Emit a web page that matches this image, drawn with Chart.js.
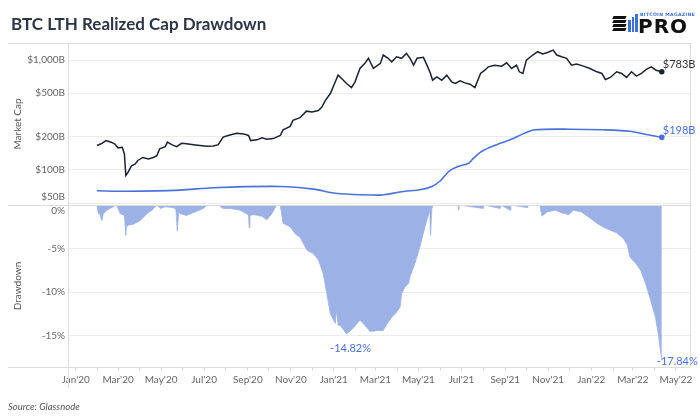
<!DOCTYPE html>
<html>
<head>
<meta charset="utf-8">
<script src="https://cdn.jsdelivr.net/npm/chart.js@4.4.0/dist/chart.umd.min.js"></script>
<style>
  body { margin: 0; background: #fff; }
  #wrap { position: relative; width: 700px; height: 420px; font-family: Lato, 'Open Sans', sans-serif; }
  #chartBox { position: absolute; left: 0; top: 0; width: 700px; height: 420px; }
  #title { position: absolute; left: 11px; top: 15px; font: bold 17px/17px Lato, sans-serif; color: #2e3547; }
  #source { position: absolute; left: 8px; top: 401px; font: italic 9.5px/11px Lato, sans-serif; color: #555; }
  #logo { position: absolute; left: 610px; top: 11px; width: 82px; height: 24px; }
  #logo .bk { position: absolute; height: 2.5px; background: #111; transform: skewX(-25deg); }
  #logo .bl { position: absolute; width: 2.5px; background: #3f6fd8; }
  #logo .mag { position: absolute; left: 30px; top: 1px; font: bold 4.6px/5px 'DejaVu Sans', sans-serif; color: #3f6fd8; letter-spacing: 0.3px; white-space: nowrap; }
  #logo .pro { position: absolute; left: 28px; top: 5px; font: bold 20px/20px 'DejaVu Sans', sans-serif; color: #111; letter-spacing: 1px; }
</style>
</head>
<body>
<div id="wrap">
  <div id="chartBox"><canvas id="ltrChart"></canvas></div>
  <div id="title">BTC LTH Realized Cap Drawdown</div>
  <div id="logo">
    <div class="bk" style="left:3px;top:5px;width:13px"></div>
    <div class="bk" style="left:3px;top:9px;width:13px"></div>
    <div class="bk" style="left:3px;top:13px;width:13px"></div>
    <div class="bk" style="left:3px;top:17px;width:13px"></div>
    <div class="bl" style="left:18px;top:9px;height:12px"></div>
    <div class="bl" style="left:21.5px;top:6px;height:15px"></div>
    <div class="bl" style="left:25px;top:3px;height:18px"></div>
    <div class="mag">BITCOIN MAGAZINE</div>
    <div class="pro">PRO</div>
  </div>
  <div id="source">Source: Glassnode</div>
</div>
<script>
// BTC market cap ($B)
const btcDates = [
  '2020-01-31','2020-02-06','2020-02-13','2020-02-20','2020-02-25','2020-03-01','2020-03-07','2020-03-10','2020-03-12','2020-03-15',
  '2020-03-20','2020-03-25','2020-03-29','2020-04-05','2020-04-13','2020-04-20','2020-04-25','2020-04-29','2020-05-07','2020-05-10',
  '2020-05-16','2020-05-23','2020-05-30','2020-06-06','2020-06-16','2020-06-25','2020-07-05','2020-07-14','2020-07-21','2020-07-28',
  '2020-08-04','2020-08-16','2020-08-26','2020-09-02','2020-09-05','2020-09-14','2020-09-21','2020-09-28','2020-10-07','2020-10-17',
  '2020-10-21','2020-10-31','2020-11-04','2020-11-14','2020-11-23','2020-12-01','2020-12-10','2020-12-15','2020-12-20','2020-12-27',
  '2021-01-02','2021-01-07','2021-01-12','2021-01-19','2021-01-26','2021-01-31','2021-02-07','2021-02-14','2021-02-19','2021-02-26',
  '2021-03-08','2021-03-12','2021-03-19','2021-03-24','2021-03-31','2021-04-07','2021-04-14','2021-04-19','2021-04-24','2021-04-29',
  '2021-05-08','2021-05-13','2021-05-18','2021-05-21','2021-05-27','2021-06-03','2021-06-10','2021-06-17','2021-06-22','2021-06-29',
  '2021-07-06','2021-07-13','2021-07-20','2021-07-28','2021-08-03','2021-08-08','2021-08-17','2021-08-27','2021-09-03','2021-09-10',
  '2021-09-17','2021-09-21','2021-09-26','2021-10-01','2021-10-10','2021-10-17','2021-10-24','2021-10-31','2021-11-08','2021-11-13',
  '2021-11-20','2021-11-27','2021-12-04','2021-12-11','2021-12-21','2021-12-30','2022-01-09','2022-01-16','2022-01-21','2022-01-28',
  '2022-02-06','2022-02-13','2022-02-20','2022-02-27','2022-03-06','2022-03-13','2022-03-20','2022-03-27','2022-04-03','2022-04-11'
];
const btcCap = [
  167,173,185,179,173,159,161,140,89,95,
  109,113,122,130,126,130,135,156,163,179,
  170,163,175,173,170,167,164,165,170,199,
  206,216,213,206,185,188,196,190,193,206,
  232,249,283,299,343,337,348,374,430,496,
  612,729,680,612,562,634,839,933,1038,839,
  933,1112,1038,964,1072,1038,1151,1038,899,1038,
  1059,899,755,656,703,656,729,634,612,647,
  620,603,562,755,809,868,899,881,945,839,
  899,782,755,1000,1112,1191,1135,1172,1233,1112,
  1072,1038,899,919,881,839,782,755,666,695,
  782,755,695,782,714,755,822,868,809,783
];

// LTH realized cap ($B)
const lthDates = [
  '2020-01-31','2020-03-13','2020-05-28','2020-07-14','2020-10-17','2020-12-03','2021-01-06','2021-03-08','2021-03-17','2021-04-10',
  '2021-05-03','2021-05-20','2021-06-01','2021-06-13','2021-06-25','2021-07-11','2021-07-18','2021-07-30','2021-08-20','2021-09-08',
  '2021-09-26','2021-10-13','2021-12-02','2022-01-18','2022-02-25','2022-03-20','2022-04-11'
];
const lthCap = [
  64.7,64,65.6,69,70.8,67,61,59,60,63.7,
  66,70.8,79.8,97,107,115,128,148,170,188,
  213,232,235,232,225,210,198
];

// LTH realized cap drawdown (%)
const ddDates = [
  '2020-01-31','2020-02-02','2020-02-04','2020-02-07','2020-02-09','2020-02-14','2020-02-23','2020-02-28','2020-03-04','2020-03-10',
  '2020-03-12','2020-03-13','2020-03-16','2020-03-23','2020-04-01','2020-04-11','2020-04-18','2020-04-25','2020-04-30','2020-05-07',
  '2020-05-18','2020-05-22','2020-05-24','2020-05-26','2020-05-28','2020-06-06','2020-06-18','2020-06-30','2020-07-05','2020-07-21',
  '2020-07-28','2020-08-07','2020-08-21','2020-08-30','2020-09-02','2020-09-03','2020-09-04','2020-09-09','2020-09-21','2020-09-28',
  '2020-10-05','2020-10-12','2020-10-17','2020-10-21','2020-10-31','2020-11-07','2020-11-14','2020-11-24','2020-12-03','2020-12-10',
  '2020-12-17','2020-12-22','2020-12-27','2021-01-03','2021-01-05','2021-01-07','2021-01-10','2021-01-19','2021-01-29','2021-02-07',
  '2021-02-17','2021-02-21','2021-02-26','2021-03-03','2021-03-12','2021-03-17','2021-03-24','2021-03-31','2021-04-05','2021-04-07',
  '2021-04-12','2021-04-17','2021-04-19','2021-04-26','2021-05-03','2021-05-08','2021-05-13','2021-05-17','2021-05-18','2021-05-20',
  '2021-05-22','2021-06-26','2021-06-27','2021-06-28','2021-08-01','2021-08-02','2021-08-25','2021-08-26','2021-09-08','2021-09-09',
  '2021-10-02','2021-10-03','2021-10-20','2021-10-23','2021-10-30','2021-11-11','2021-11-20','2021-11-30','2021-12-07','2021-12-18',
  '2022-01-01','2022-01-09','2022-01-17','2022-01-28','2022-02-06','2022-02-16','2022-02-21','2022-02-25','2022-03-05','2022-03-12',
  '2022-03-19','2022-03-26','2022-04-02','2022-04-06','2022-04-11'
];
const ddValues = [
  0,-1.0,-1.0,-1.8,-1.0,-0.6,-0.2,0,-1.0,-1.2,
  -3.5,-2.5,-2.3,-2.2,-1.8,-1.0,-0.6,0,-0.4,-0.2,
  -0.3,-0.5,-3.0,-0.8,-1.0,-1.2,-0.8,-0.4,0,0,
  -0.4,-0.4,-0.6,-1.0,-1.2,-2.6,-1.2,-1.1,-1.3,-1.7,
  -1.0,0,0,-2.1,-2.5,-3.3,-3.7,-5.2,-5.6,-6.3,
  -7.9,-10.2,-12.5,-13.6,-12.0,-13.8,-13.8,-14.82,-14.1,-13.2,
  -14.1,-14.5,-14.5,-14.4,-14.4,-13.7,-12.9,-12.3,-11.7,-10.2,
  -9.4,-9.0,-8.2,-6.7,-4.8,-3.2,-1.7,-0.6,-3.5,-0.4,
  0,0,-0.6,0,-0.4,0,-0.4,0,-0.6,0,
  -0.3,0,0,-1.3,-0.8,-0.6,-0.9,-1.1,-0.6,-0.8,
  -1.6,-2.1,-2.5,-2.9,-3.2,-3.9,-4.6,-6.0,-6.7,-7.5,
  -9.0,-10.9,-12.9,-14.8,-17.84
];

const capTicks = [50, 100, 200, 500, 1000];
const ddTicks = [0, -5, -10, -15];
const monthNames = ['Jan','Feb','Mar','Apr','May','Jun','Jul','Aug','Sep','Oct','Nov','Dec'];

const DAY0 = Date.UTC(2020, 0, 1);
function dayOf(d) {
  return (Date.parse(d) - DAY0) / 86400000;
}
function toPoints(dates, values) {
  return dates.map((d, i) => ({ x: dayOf(d), y: values[i] }));
}

// month ticks, Jan'20 .. May'22
const monthTicks = [];
for (let m = 0; m <= 28; m++) {
  const y = 2020 + Math.floor(m / 12);
  monthTicks.push({ value: (Date.UTC(y, m % 12, 1) - DAY0) / 86400000, label: m % 2 === 0 ? monthNames[m % 12] + "'" + String(y).slice(2) : '' });
}

const tickFont = { family: 'Lato', size: 10 };
const lastDot = c => (c.dataIndex === c.dataset.data.length - 1 ? 2 : 0);

// Border lines and callout labels
const decorations = {
  id: 'decorations',
  afterDraw(chart) {
    const { ctx, chartArea: a, scales } = chart;
    ctx.save();
    ctx.strokeStyle = '#dcdcdc';
    ctx.lineWidth = 1;
    [a.top, scales.yDD.top, a.bottom].forEach(y => {
      ctx.beginPath();
      ctx.moveTo(8, Math.round(y) + 0.5);
      ctx.lineTo(a.right, Math.round(y) + 0.5);
      ctx.stroke();
    });
    ctx.beginPath();
    ctx.moveTo(Math.round(a.left) + 0.5, a.top);
    ctx.lineTo(Math.round(a.left) + 0.5, a.bottom + 21);
    ctx.moveTo(Math.round(a.right) + 0.5, a.top);
    ctx.lineTo(Math.round(a.right) + 0.5, a.bottom);
    ctx.stroke();

    ctx.font = '11px Lato';
    ctx.textBaseline = 'middle';
    const x = scales.x, yc = scales.yCap, yd = scales.yDD;
    const nb = btcCap.length - 1, nl = lthCap.length - 1, nd = ddValues.length - 1;
    ctx.textAlign = 'left';
    ctx.fillStyle = '#333';
    ctx.fillText('$' + Math.round(btcCap[nb]) + 'B', x.getPixelForValue(dayOf(btcDates[nb])) + 1, yc.getPixelForValue(btcCap[nb]) - 7);
    ctx.fillStyle = '#4a72d9';
    ctx.fillText('$' + Math.round(lthCap[nl]) + 'B', x.getPixelForValue(dayOf(lthDates[nl])) + 1, yc.getPixelForValue(lthCap[nl]) - 7);

    // first trough minimum
    let mi = 0;
    ddValues.forEach((v, i) => { if (dayOf(ddDates[i]) < 500 && v < ddValues[mi]) mi = i; });
    ctx.textAlign = 'center';
    ctx.fillText(ddValues[mi].toFixed(2) + '%', x.getPixelForValue(dayOf(ddDates[mi])) + 4, yd.getPixelForValue(ddValues[mi]) + 14);
    ctx.textAlign = 'left';
    ctx.fillText(ddValues[nd].toFixed(2) + '%', x.getPixelForValue(dayOf(ddDates[nd])) - 5, yd.getPixelForValue(ddValues[nd]) + 1);
    ctx.restore();
  }
};

new Chart(document.getElementById('ltrChart'), {
  type: 'line',
  data: {
    datasets: [
      {
        label: 'BTC Market Cap',
        data: toPoints(btcDates, btcCap),
        yAxisID: 'yCap',
        borderColor: '#1d2230',
        backgroundColor: '#1d2230',
        borderWidth: 1.5,
        pointRadius: lastDot,
        tension: 0
      },
      {
        label: 'LTH Realized Cap',
        data: toPoints(lthDates, lthCap),
        yAxisID: 'yCap',
        borderColor: '#4a72d9',
        backgroundColor: '#4a72d9',
        borderWidth: 1.6,
        pointRadius: lastDot,
        tension: 0.3
      },
      {
        label: 'Drawdown',
        data: toPoints(ddDates, ddValues),
        yAxisID: 'yDD',
        borderColor: 'rgb(156,177,230)',
        backgroundColor: 'rgb(156,177,230)',
        borderWidth: 0.8,
        pointRadius: 0,
        fill: 'origin'
      }
    ]
  },
  options: {
    responsive: true,
    maintainAspectRatio: false,
    animation: false,
    layout: { padding: { left: 8, right: 10, top: 43, bottom: 28 } },
    plugins: { legend: { display: false }, tooltip: { enabled: false } },
    scales: {
      x: {
        type: 'linear',
        min: -11,
        max: 871,
        afterBuildTicks: s => { s.ticks = monthTicks.map(t => ({ value: t.value })); },
        afterFit: s => { s.height = 25; },
        ticks: {
          autoSkip: false,
          maxRotation: 0,
          font: tickFont,
          color: '#666',
          padding: 3,
          callback: (v, i) => monthTicks[i].label
        },
        grid: { drawOnChartArea: false, drawTicks: true, tickLength: 4, color: '#dcdcdc' },
        border: { display: false }
      },
      yCap: {
        type: 'logarithmic',
        position: 'left',
        stack: 'panels',
        stackWeight: 1,
        weight: 2,
        min: 48,
        max: 1430,
        afterBuildTicks: s => { s.ticks = capTicks.map(v => ({ value: v })); },
        afterFit: s => { s.width = 60; },
        ticks: {
          autoSkip: false,
          font: tickFont,
          color: '#666',
          callback: v => (v === 50 ? ['$50B', ''] : '$' + v.toLocaleString('en-US') + 'B')
        },
        title: { display: true, text: 'Market Cap', font: tickFont, color: '#555', padding: { top: 4, bottom: 0 } },
        grid: { color: '#ececec', drawTicks: false },
        border: { display: false }
      },
      yDD: {
        type: 'linear',
        position: 'left',
        stack: 'panels',
        stackWeight: 1,
        weight: 1,
        min: -18.6,
        max: 0,
        afterBuildTicks: s => { s.ticks = ddTicks.map(v => ({ value: v })); },
        afterFit: s => { s.width = 60; },
        ticks: {
          autoSkip: false,
          font: tickFont,
          color: '#666',
          callback: v => (v === 0 ? ['', '0%'] : v + '%')
        },
        title: { display: true, text: 'Drawdown', font: tickFont, color: '#555', padding: { top: 4, bottom: 0 } },
        grid: { color: '#ececec', drawTicks: false },
        border: { display: false }
      }
    }
  },
  plugins: [decorations]
});
</script>
</body>
</html>
